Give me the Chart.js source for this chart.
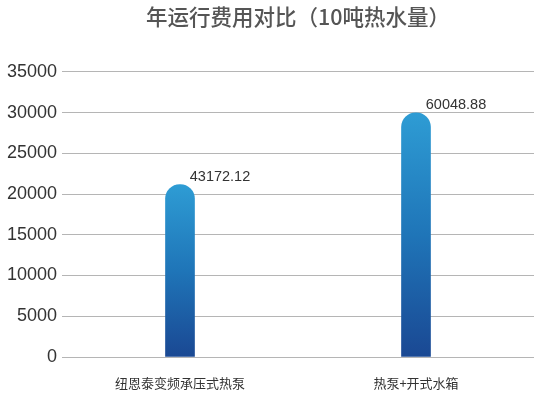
<!DOCTYPE html>
<html>
<head>
<meta charset="utf-8">
<script src="https://cdn.jsdelivr.net/npm/chart.js@4"></script>
<style>
  html, body { margin: 0; padding: 0; background: #fff; }
  #wrap { width: 534px; height: 401px; }
</style>
</head>
<body>
<div id="wrap"><canvas id="myChart"></canvas></div>
<script>
// chart data
const categories = ['纽恩泰变频承压式热泵', '热泵+开式水箱'];
const barValues = [21150, 29950];          // bar heights as drawn
const valueLabels = ['43172.12', '60048.88']; // text printed above the bars
const yTicks = [0, 5000, 10000, 15000, 20000, 25000, 30000, 35000];

const titleText = '年运行费用对比（10吨热水量）';

function barGradient(context){
    const chart = context.chart;
    const yScale = chart.scales.y;
    if(!chart.chartArea || !yScale) return '#2373b9';
    const top = yScale.getPixelForValue(context.raw);
    const bottom = yScale.getPixelForValue(0);
    const g = chart.ctx.createLinearGradient(0, top, 0, bottom);
    g.addColorStop(0, '#2e9cd4');
    g.addColorStop(0.5, '#1f75b8');
    g.addColorStop(1, '#1a4893');
    return g;
}

// writes the value text up and to the right of each bar
const valueLabelPlugin = {
    id: 'valueLabels',
    afterDatasetsDraw(chart){
        const ctx = chart.ctx;
        const meta = chart.getDatasetMeta(0);
        ctx.save();
        ctx.font = '14.5px "Liberation Sans", Arial, sans-serif';
        ctx.fillStyle = '#333';
        ctx.textAlign = 'center';
        ctx.textBaseline = 'middle';
        meta.data.forEach(function(bar, i){
            ctx.fillText(valueLabels[i], bar.x + 40, bar.y - 8);
        });
        ctx.restore();
    }
};

window.addEventListener('load', function(){
    const ctx = document.getElementById('myChart').getContext('2d');
    new Chart(ctx, {
        type: 'bar',
        data: {
            labels: categories,
            datasets: [{
                data: barValues,
                backgroundColor: barGradient,
                barThickness: 29,
                borderRadius: {topLeft: 15, topRight: 15, bottomLeft: 0, bottomRight: 0},
                borderSkipped: false
            }]
        },
        options: {
            responsive: true,
            maintainAspectRatio: false,
            animation: false,
            layout: { padding: 0 },
            plugins: {
                legend: { display: false },
                tooltip: { enabled: false },
                title: {
                    display: true,
                    fullSize: false,
                    text: titleText,
                    color: '#555',
                    font: { family: '"Noto Sans CJK SC", sans-serif', size: 21.5, weight: '500' },
                    padding: { top: 4, bottom: 42 }
                }
            },
            scales: {
                x: {
                    afterFit: function(scale){ scale.height = 44; },
                    grid: { display: false, drawTicks: false },
                    border: { display: false },
                    ticks: {
                        color: '#333',
                        padding: 18,
                        font: { family: '"Noto Sans CJK SC", sans-serif', size: 13 }
                    }
                },
                y: {
                    min: 0,
                    max: 35000,
                    afterFit: function(scale){ scale.width = 62; },
                    afterBuildTicks: function(scale){
                        scale.ticks = yTicks.map(function(v){ return {value: v}; });
                    },
                    grid: { color: '#b5b5b5', lineWidth: 1, drawTicks: false },
                    border: { display: false },
                    ticks: {
                        color: '#333',
                        padding: 5,
                        font: { family: '"Liberation Sans", Arial, sans-serif', size: 18 },
                        callback: function(v){ return String(v); }
                    }
                }
            }
        },
        plugins: [valueLabelPlugin]
    });
});
</script>
</body>
</html>
